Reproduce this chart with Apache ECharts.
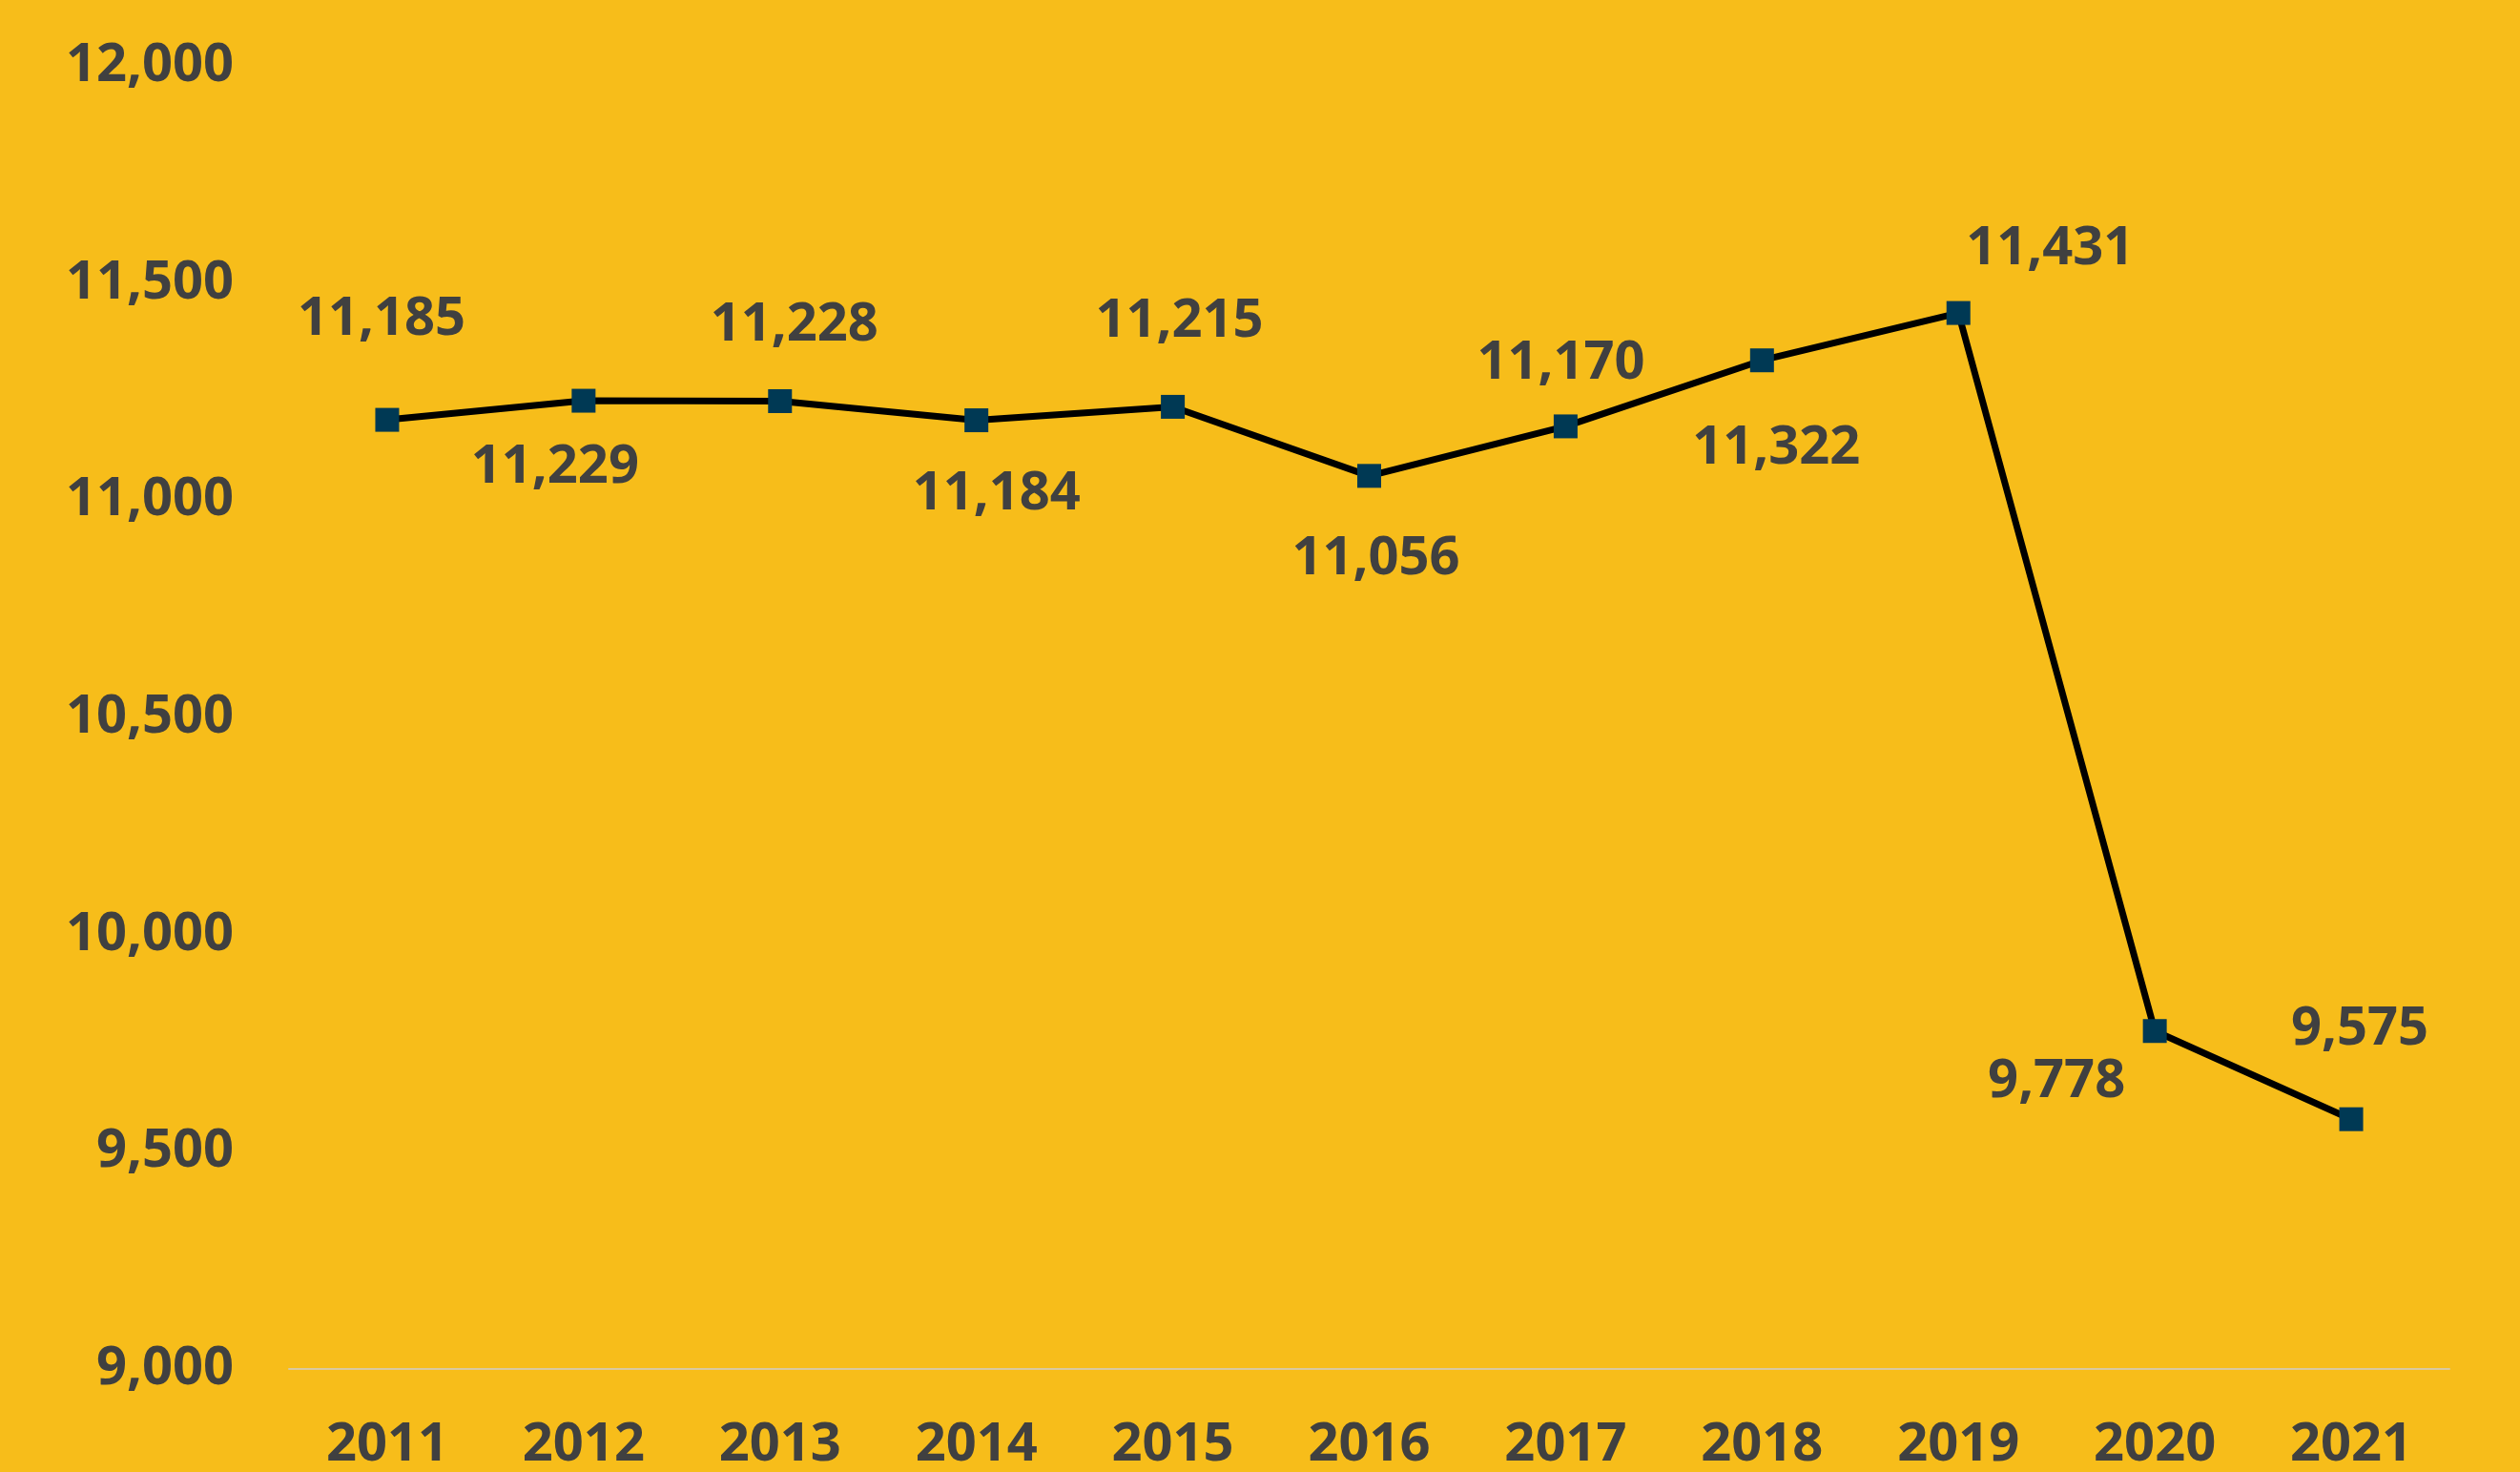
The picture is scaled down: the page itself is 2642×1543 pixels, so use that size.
<!DOCTYPE html>
<html>
<head>
<meta charset="utf-8">
<script src="https://cdn.jsdelivr.net/npm/echarts@6/dist/echarts.min.js"></script>
<style>
html,body{margin:0;padding:0;background:#F7BD1A;}
#chart{width:2642px;height:1543px;}
</style>
</head>
<body>
<div id="chart"></div>
<script>
const years = ['2011','2012','2013','2014','2015','2016','2017','2018','2019','2020','2021'];
const values = [11185, 11229, 11228, 11184, 11215, 11056, 11170, 11322, 11431, 9778, 9575];
const yTicks = [9000, 9500, 10000, 10500, 11000, 11500, 12000];

// label layout (pixel offsets from each marker), kept apart from the data
const labelOffsets = [[-6,-105],[-30,70],[15,-79],[21,77],[7,-89],[7,87],[-5,-66],[15,92],[96,-67],[-103,53],[9,-94]];

const chart = echarts.init(document.getElementById('chart'));
const fmt = v => v.toLocaleString('en-US');
chart.setOption({
  backgroundColor: '#F7BD1A',
  animation: false,
  grid: {left: 303, right: 74, top: 69, bottom: 100},
  xAxis: {
    type: 'category',
    data: years,
    boundaryGap: true,
    axisLine: {show: true, lineStyle: {color: '#D9C9A0', width: 2}},
    axisTick: {show: false},
    axisLabel: {margin: 52, color: '#404040', fontFamily: 'Open Sans', fontWeight: 'bold', fontSize: 56}
  },
  yAxis: {
    type: 'value',
    min: yTicks[0],
    max: yTicks[yTicks.length - 1],
    interval: 500,
    splitLine: {show: false},
    axisLine: {show: false},
    axisTick: {show: false},
    axisLabel: {margin: 58, color: '#404040', fontFamily: 'Open Sans', fontWeight: 'bold', fontSize: 56, formatter: fmt}
  },
  series: [{
    type: 'line',
    data: values.map((v, i) => ({value: v, label: {offset: labelOffsets[i]}})),
    symbol: 'rect',
    symbolSize: 25,
    itemStyle: {color: '#003954'},
    lineStyle: {color: '#000000', width: 7},
    z: 3,
    label: {
      show: true,
      position: 'inside',
      color: '#404040',
      fontFamily: 'Open Sans',
      fontWeight: 'bold',
      fontSize: 56,
      formatter: p => fmt(p.value)
    }
  }]
});
</script>
</body>
</html>
